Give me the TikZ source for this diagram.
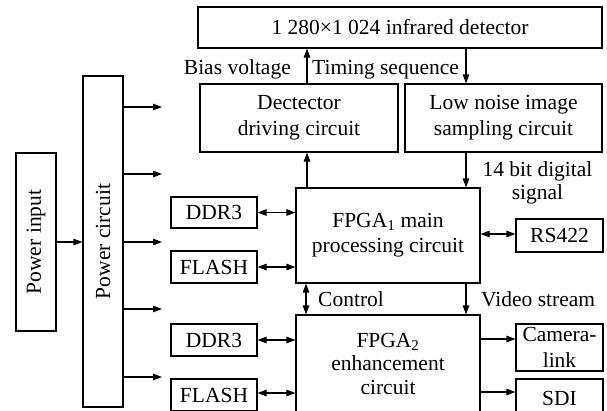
\documentclass[tikz,border=0pt]{standalone}
\usepackage{fontspec}
\setmainfont{Liberation Serif}
\usetikzlibrary{arrows.meta}
\begin{document}
\begin{tikzpicture}[x=1pt,y=-1pt,
  box/.style={draw,line width=1.1pt,inner sep=0pt,align=center,font=\fontsize{21.5}{26}\selectfont},
  lbl/.style={inner sep=0pt,font=\fontsize{21.5}{23.5}\selectfont},
  conn/.style={line width=1.1pt,-{Triangle[length=9pt,width=6.5pt]}},
  bconn/.style={line width=1.1pt,{Triangle[length=9pt,width=6.5pt]}-{Triangle[length=9pt,width=6.5pt]}}]
\useasboundingbox (0,0) rectangle (607,410);
\clip (0,0) rectangle (607,410);
% boxes
\node[box,minimum width=404pt,minimum height=41pt] (det) at (400,27.5) {1 280×1 024 infrared detector};
\node[box,minimum width=198pt,minimum height=68pt] (drv) at (299,118) {Dectector\\driving circuit};
\node[box,minimum width=197pt,minimum height=68pt] (lns) at (503.5,118) {Low noise image\\sampling circuit};
\node[box,minimum width=184pt,minimum height=95pt,font=\fontsize{21.5}{25}\selectfont] (f1) at (388,235.5) {FPGA\textsubscript{1} main\\processing circuit};
\node[box,minimum width=184pt,minimum height=97pt,font=\fontsize{21.5}{23.5}\selectfont] (f2) at (388,363.5) {FPGA\textsubscript{2}\\enhancement\\circuit};
\node[box,minimum width=87pt,minimum height=33pt] (rs) at (559.5,235.5) {RS422};
\node[box,minimum width=87pt,minimum height=47pt,font=\fontsize{21.5}{26.5}\selectfont] (cam) at (559.5,347.5) {Camera-\\link};
\node[box,minimum width=87pt,minimum height=38pt] (sdi) at (559.5,398) {SDI};
\node[box,minimum width=86pt,minimum height=31pt] (d1) at (214,212.5) {DDR3};
\node[box,minimum width=86pt,minimum height=32pt] (fl1) at (214,267) {FLASH};
\node[box,minimum width=86pt,minimum height=32pt] (d2) at (214,340) {DDR3};
\node[box,minimum width=86pt,minimum height=32pt] (fl2) at (214,395) {FLASH};
\node[box,minimum width=40pt,minimum height=178pt] (pin) at (36,242) {};
\node[rotate=90,lbl] at (pin.center) {Power input};
\node[box,minimum width=40pt,minimum height=331pt] (pc) at (103,241.5) {};
\node[rotate=90,lbl] at (pc.center) {Power circuit};
% power arrows
\draw[conn] (pin.east |- 0,242) -- (pc.west |- 0,242);
\foreach \yy [count=\i] in {107,174,242,309,377}{
  \coordinate (p\i) at (162,\yy);
  \draw[conn] (pc.east |- p\i) -- (p\i);
}
% vertical links
\draw[conn] (drv.north -| 307,0) -- (det.south -| 307,0);
\draw[conn] (det.south -| 466,0) -- (lns.north -| 466,0);
\draw[conn] (f1.north -| 307,0) -- (drv.south -| 307,0);
\draw[conn] (lns.south -| 466,0) -- (f1.north -| 466,0);
\draw[bconn] (f1.south -| 306,0) -- (f2.north -| 306,0);
\draw[conn] (f1.south -| 466,0) -- (f2.north -| 466,0);
% horizontal links
\draw[bconn] (f1.east |- 0,234) -- (rs.west |- 0,234);
\draw[bconn] (d1.east) -- (f1.west |- d1.east);
\draw[bconn] (fl1.east) -- (f1.west |- fl1.east);
\draw[bconn] (d2.east) -- (f2.west |- d2.east);
\draw[bconn] (fl2.east |- 0,393) -- (f2.west |- 0,393);
\draw[conn] (f2.east |- 0,339) -- (cam.west |- 0,339);
\draw[conn] (f2.east |- 0,392) -- (sdi.west |- 0,392);
% labels
\node[lbl,anchor=base east] (lb) at (291,74) {Bias voltage};
\node[lbl,anchor=base west] (lt) at (312,74) {Timing sequence};
\node[lbl,anchor=north,align=center] (l14) at (537.5,161) {14 bit digital\\signal};
\node[lbl,anchor=base west] (lc) at (318,306) {Control};
\node[lbl,anchor=base west] (lv) at (481,306) {Video stream};
\end{tikzpicture}
\end{document}
